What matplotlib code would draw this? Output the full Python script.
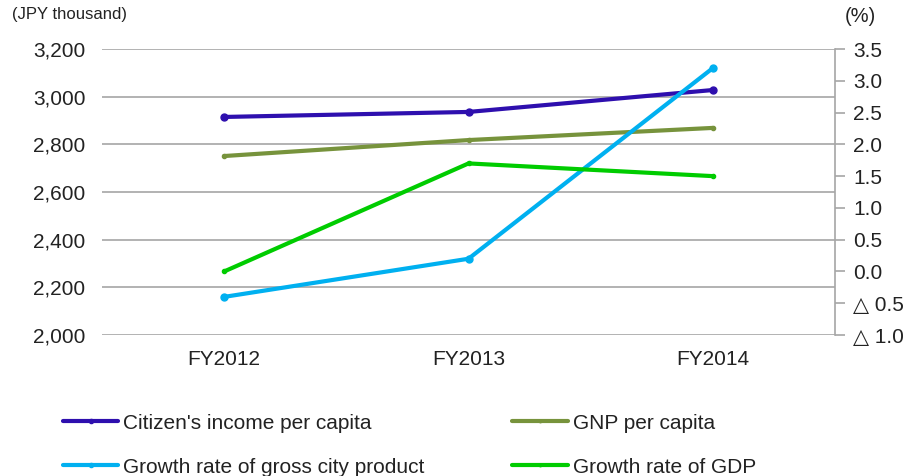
import matplotlib.pyplot as plt
from matplotlib.ticker import FuncFormatter

plt.rcParams['font.family'] = ['Liberation Sans', 'DejaVu Sans']

years = ['FY2012', 'FY2013', 'FY2014']
citizen_income = [2915, 2936, 3028]     # JPY thousand, left axis
gnp_per_capita = [2751, 2818, 2869]     # JPY thousand, left axis
growth_city = [-0.4, 0.2, 3.2]          # %, right axis
growth_gdp = [0.0, 1.7, 1.5]            # %, right axis

left_ticks = [2000, 2200, 2400, 2600, 2800, 3000, 3200]
right_ticks = [-1.0, -0.5, 0.0, 0.5, 1.0, 1.5, 2.0, 2.5, 3.0, 3.5]

c_income = '#2E0FAE'
c_gnp = '#77933C'
c_city = '#00B0F0'
c_gdp = '#00CC00'
grid_c = '#A6A6A6'
txt_c = '#222222'

fig = plt.figure(figsize=(9.2, 4.76), dpi=100)
ax = fig.add_axes([0.1109, 0.2962, 0.7967, 0.6008])
ax2 = ax.twinx()

x = range(len(years))
l1, = ax.plot(x, citizen_income, color=c_income, lw=3, marker='o', ms=5,
              solid_capstyle='round')
l2, = ax.plot(x, gnp_per_capita, color=c_gnp, lw=3, marker='o', ms=3,
              solid_capstyle='round')
l3, = ax2.plot(x, growth_city, color=c_city, lw=3, marker='o', ms=5,
               solid_capstyle='round')
l4, = ax2.plot(x, growth_gdp, color=c_gdp, lw=3, marker='o', ms=3,
               solid_capstyle='round')

ax.set_xlim(-0.5, 2.5)
ax.set_ylim(2000, 3200)
ax.set_yticks(left_ticks)
ax.yaxis.set_major_formatter(FuncFormatter(lambda v, p: f'{int(v):,}'))
ax.set_xticks(list(x))
ax.set_xticklabels(years)
ax.grid(axis='y', color=grid_c, lw=1.2)
ax.set_axisbelow(True)
ax.tick_params(axis='y', length=0, pad=12, labelsize=15, labelcolor=txt_c)
ax.tick_params(axis='x', length=0, pad=11, labelsize=15, labelcolor=txt_c)
for s in ['left', 'top', 'right', 'bottom']:
    ax.spines[s].set_visible(False)

ax2.set_ylim(-1.0, 3.5)
ax2.set_yticks(right_ticks)
ax2.yaxis.set_major_formatter(
    FuncFormatter(lambda v, p: f'△ {abs(v):.1f}' if v < 0 else f'{v:.1f}'))
ax2.tick_params(axis='y', length=7, width=1.2, color=grid_c, pad=6,
                labelsize=15, labelcolor=txt_c)
for s in ['left', 'top', 'bottom']:
    ax2.spines[s].set_visible(False)
ax2.spines['right'].set_color(grid_c)
ax2.spines['right'].set_linewidth(1.2)

fig.text(0.013, 0.97, '(JPY thousand)', fontsize=12, color=txt_c, va='center')
fig.text(0.918, 0.965, '(%)', fontsize=14.5, color=txt_c, va='center')

# legend filled column-wise, so interleave to get row order
leg = fig.legend([l1, l3, l2, l4],
                 ["Citizen's income per capita",
                  'Growth rate of gross city product',
                  'GNP per capita', 'Growth rate of GDP'],
                 loc='upper left', bbox_to_anchor=(0.0685, 0.131), ncol=2,
                 frameon=False, fontsize=15, handlelength=2.65,
                 handletextpad=0.25, columnspacing=4.2, labelspacing=1.2,
                 numpoints=1, borderaxespad=0, borderpad=0, markerscale=0.6)
for t in leg.get_texts():
    t.set_color(txt_c)

fig.savefig('out.png', dpi=100)
